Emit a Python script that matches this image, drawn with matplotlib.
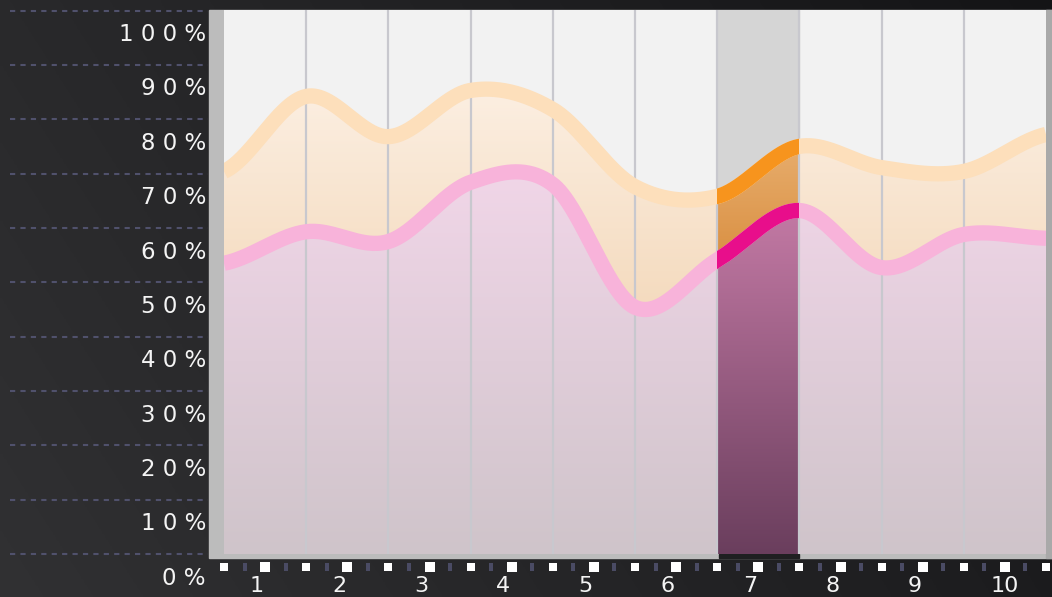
import numpy as np
import matplotlib
matplotlib.use("Agg")
import matplotlib.pyplot as plt
from matplotlib.patches import Rectangle, Polygon
from matplotlib.lines import Line2D
from matplotlib.colors import to_rgb
from matplotlib.transforms import blended_transform_factory

# data (values at the 11 column boundaries)
columns = ["1", "2", "3", "4", "5", "6", "7", "8", "9", "10"]
y_ticks = [0, 10, 20, 30, 40, 50, 60, 70, 80, 90, 100]
y_tick_labels = ["0 %", "1 0 %", "2 0 %", "3 0 %", "4 0 %", "5 0 %",
                 "6 0 %", "7 0 %", "8 0 %", "9 0 %", "1 0 0 %"]
upper = [74.5, 88.3, 80.9, 89.4, 85.9, 71.7, 69.9, 79.1, 75.2, 74.5, 81.3]
lower = [57.6, 63.4, 61.6, 72.5, 72.1, 49.5, 58.2, 67.3, 56.8, 62.9, 62.2]
highlight = 6  # column "7"

W, H = 1052, 597
Y0, Y1 = 4.1, 104.2


def catmull(ys, n=60):
    # smooth curve through the points, like d3.curveCatmullRom
    ys = np.asarray(ys, float)
    p = np.concatenate([[ys[0]], ys, [ys[-1]]])
    xs_out, ys_out = [], []
    t = np.linspace(0, 1, n, endpoint=False)
    for i in range(len(ys) - 1):
        p0, p1, p2, p3 = p[i], p[i + 1], p[i + 2], p[i + 3]
        seg = 0.5 * (2 * p1 + (-p0 + p2) * t + (2 * p0 - 5 * p1 + 4 * p2 - p3) * t ** 2
                     + (-p0 + 3 * p1 - 3 * p2 + p3) * t ** 3)
        xs_out.append(i + t)
        ys_out.append(seg)
    xs_out.append([len(ys) - 1])
    ys_out.append([ys[-1]])
    return np.concatenate(xs_out), np.concatenate(ys_out)


def gradient_fill(ax, xs, top, bottom, c_top, c_bot, v_top, v_bot, z):
    verts = np.concatenate([np.column_stack([xs, top]),
                            np.column_stack([xs[::-1], bottom[::-1]])])
    poly = Polygon(verts, closed=True, facecolor="none", edgecolor="none")
    ax.add_patch(poly)
    g = np.linspace(0, 1, 256)[:, None, None]
    ct, cb = np.array(to_rgb(c_top)), np.array(to_rgb(c_bot))
    img = cb + (ct - cb) * g
    im = ax.imshow(img, extent=[xs[0], xs[-1], v_bot, v_top], origin="lower",
                   aspect="auto", zorder=z, interpolation="bilinear")
    im.set_clip_path(poly)


fig = plt.figure(figsize=(W / 100, H / 100), dpi=100)
fig.patch.set_facecolor("#1e1e1f")

# dark photo-like backdrop
bg = fig.add_axes([0, 0, 1, 1], zorder=-10)
gx = np.linspace(0, 1, 300)[None, :, None]
gy = np.linspace(0, 1, 200)[:, None, None]
left_c = np.array(to_rgb("#2d2d2f"))
right_c = np.array(to_rgb("#18181a"))
bgimg = left_c + (right_c - left_c) * gx + 0.03 * (gy - 0.5)
bg.imshow(np.clip(bgimg, 0, 1), extent=[0, 1, 0, 1], aspect="auto")
bg.set_axis_off()

# grey frame round the plot
fig.patches.append(Rectangle((209 / W, (H - 558) / H), (W - 209) / W, (558 - 10) / H,
                             transform=fig.transFigure, color="#bcbcbc", zorder=-5))
fig.patches.append(Rectangle((1046 / W, (H - 558) / H), 6 / W, (558 - 10) / H,
                             transform=fig.transFigure, color="#a9a9a9", zorder=-4))
# no frame under the highlighted column
fig.patches.append(Rectangle((719 / W, (H - 558) / H), 80 / W, 4 / H,
                             transform=fig.transFigure, color="#1f1f21", zorder=-4))

ax = fig.add_axes([224 / W, (H - 554) / H, (1046 - 224) / W, (554 - 10) / H])
ax.set_facecolor("#f2f2f2")
for s in ax.spines.values():
    s.set_visible(False)
ax.set_xticks([])
ax.set_yticks([])

xs, up = catmull(upper)
_, lo = catmull(lower)
base = np.full_like(xs, Y0)

ax.axvspan(highlight, highlight + 1, color="#d5d5d5", zorder=0.5)

gradient_fill(ax, xs, up, lo, "#fcefe2", "#f4dabd", 90, 48, 1)
gradient_fill(ax, xs, lo, base, "#f1d6e8", "#cfc4ca", 75, Y0, 1)

m = (xs >= highlight) & (xs <= highlight + 1)
gradient_fill(ax, xs[m], up[m], lo[m], "#e8ae6e", "#d88d3e", 80, 56, 1.5)
gradient_fill(ax, xs[m], lo[m], base[m], "#c47aa5", "#6a3e5d", 68, Y0, 1.5)

ax.vlines(range(1, 10), Y0, Y1, color="#c8c8ce", lw=1.6, zorder=2)

ax.plot(xs, up, color="#fddfbb", lw=11, solid_capstyle="butt", zorder=3)
ax.plot(xs, lo, color="#f8b3da", lw=11, solid_capstyle="butt", zorder=3)
clip = Rectangle((highlight, Y0), 1, Y1 - Y0, transform=ax.transData)
l1, = ax.plot(xs, up, color="#f7941d", lw=11, solid_capstyle="butt", zorder=4)
l2, = ax.plot(xs, lo, color="#e80e8b", lw=11, solid_capstyle="butt", zorder=4)
l1.set_clip_path(clip)
l2.set_clip_path(clip)

ax.set_xlim(0, 10)
ax.set_ylim(Y0, Y1)

# tick row under the plot
tb = blended_transform_factory(ax.transData, ax.transAxes)
ty = -(567 - 554) / 544
edges = np.arange(0, 11)
centers = np.arange(10) + 0.5
quarters = np.sort(np.concatenate([np.arange(10) + 0.25, np.arange(10) + 0.75]))
ax.scatter(edges, np.full(11, ty), s=34, marker="s", color="white", lw=0,
           transform=tb, clip_on=False, zorder=5)
ax.scatter(centers, np.full(10, ty), s=62, marker="s", color="white", lw=0,
           transform=tb, clip_on=False, zorder=5)
rect_marker = [(-0.3, -0.5), (0.3, -0.5), (0.3, 0.5), (-0.3, 0.5), (-0.3, -0.5)]
ax.scatter(quarters, np.full(20, ty), s=34, marker=rect_marker, color="#4a4b64", lw=0,
           transform=tb, clip_on=False, zorder=5)

for i, lab in enumerate(columns):
    off = 0.0 if len(lab) > 1 else -0.1
    ax.text(i + 0.5 + off, -(592 - 554) / 544, lab, transform=tb, ha="center",
            va="baseline", color="#f4f4f4", fontsize=16, clip_on=False)

# y labels and dashed guides on the left
yb = blended_transform_factory(fig.transFigure, ax.transData)
for v, lab in zip(y_ticks, y_tick_labels):
    fig.text(206 / W, v - 1.53, lab, transform=yb, ha="right", va="baseline",
             color="#f4f4f4", fontsize=16.5)
    fig.add_artist(Line2D([10 / W, 208 / W], [v + 4.1, v + 4.1], transform=yb,
                          color="#50516c", lw=1.5, dashes=(2.5, 2.5)))

fig.savefig("out.png", dpi=100)
